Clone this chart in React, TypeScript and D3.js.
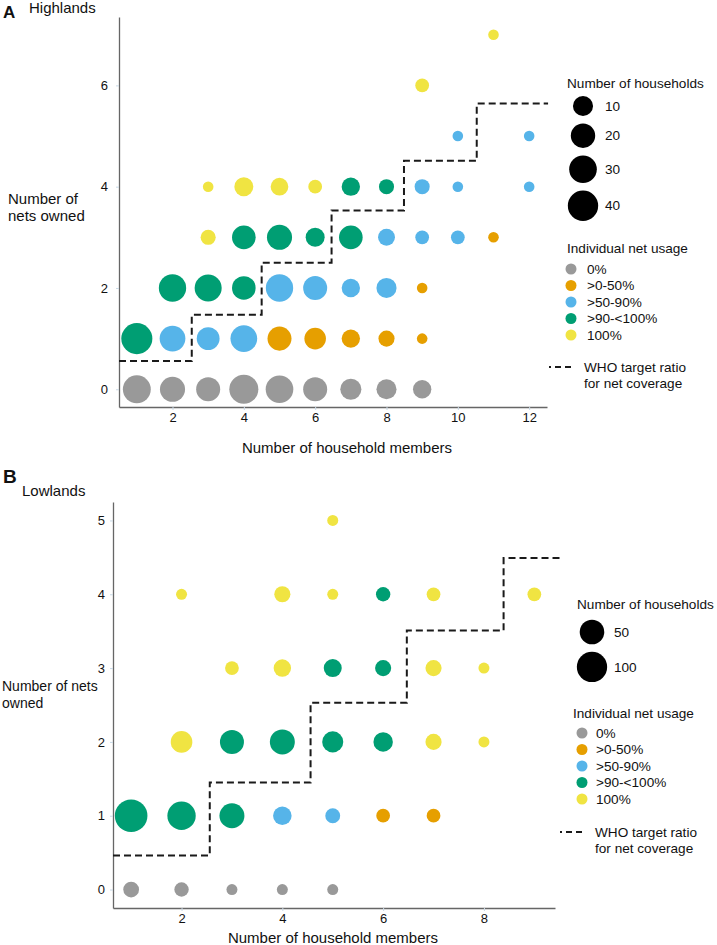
import React, { useEffect, useRef } from "react";
import * as d3 from "d3";

const FONT = "'Liberation Sans', Arial, Helvetica, sans-serif";

const usageCategories = ["0%", ">0-50%", ">50-90%", ">90-<100%", "100%"];
const usageColors = ["#999999", "#E69F00", "#56B4E9", "#009E73", "#F0E442"];

// Highlands (panel A)
const hMembers = [1, 2, 3, 4, 5, 6, 7, 8, 9, 1, 2, 3, 4, 5, 6, 7, 8, 9, 2, 3, 4, 5, 6, 7, 8, 9, 3, 4, 5, 6, 7, 8, 9, 10, 11, 3, 4, 5, 6, 7, 8, 9, 10, 12, 10, 12, 9, 11];
const hNets = [0, 0, 0, 0, 0, 0, 0, 0, 0, 1, 1, 1, 1, 1, 1, 1, 1, 1, 2, 2, 2, 2, 2, 2, 2, 2, 3, 3, 3, 3, 3, 3, 3, 3, 3, 4, 4, 4, 4, 4, 4, 4, 4, 4, 5, 5, 6, 7];
const hCounts = [31, 22, 19, 35, 30, 19, 12, 10, 7, 43, 24, 16, 27, 19, 13, 7, 4, 1, 29, 28, 18, 29, 19, 7, 10, 1, 3, 18, 22, 8, 18, 5, 2, 2, 1, 1, 8, 6, 2, 7, 3, 3, 1, 1, 1, 1, 2, 1];
const hUsage = [0, 0, 0, 0, 0, 0, 0, 0, 0, 3, 2, 2, 2, 1, 1, 1, 1, 1, 3, 3, 3, 2, 2, 2, 2, 1, 4, 3, 3, 3, 3, 2, 2, 2, 1, 4, 4, 4, 4, 3, 3, 2, 2, 2, 2, 2, 4, 4];
const hWhoX = [0.5, 2.54, 4.5, 6.46, 8.49, 10.53, 12.53];
const hWhoY = [0.56, 1.47, 2.5, 3.53, 4.51, 5.64, 5.64];
const hXTicks = [2, 4, 6, 8, 10, 12];
const hYTicks = [0, 2, 4, 6];
const hSizeLegend = [10, 20, 30, 40];

// Lowlands (panel B)
const lMembers = [1, 2, 3, 4, 5, 1, 2, 3, 4, 5, 6, 7, 2, 3, 4, 5, 6, 7, 8, 3, 4, 5, 6, 7, 8, 2, 4, 5, 6, 7, 9, 5];
const lNets = [0, 0, 0, 0, 0, 1, 1, 1, 1, 1, 1, 1, 2, 2, 2, 2, 2, 2, 2, 3, 3, 3, 3, 3, 3, 4, 4, 4, 4, 4, 4, 5];
const lCounts = [7, 4, 1, 1, 1, 125, 81, 53, 16, 5, 3, 3, 31, 46, 53, 28, 20, 8, 1, 3, 12, 14, 8, 8, 1, 1, 8, 1, 4, 3, 3, 1];
const lUsage = [0, 0, 0, 0, 0, 3, 3, 3, 2, 2, 1, 1, 4, 3, 3, 3, 3, 4, 4, 4, 4, 3, 3, 4, 4, 4, 4, 4, 3, 4, 4, 4];
const lWhoX = [0.64, 2.56, 4.56, 6.47, 8.39, 9.56];
const lWhoY = [0.46, 1.45, 2.53, 3.51, 4.49, 4.49];
const lXTicks = [2, 4, 6, 8];
const lYTicks = [0, 1, 2, 3, 4, 5];
const lSizeLegend = [50, 100];

const panels = [
  {
    members: hMembers, nets: hNets, counts: hCounts, usage: hUsage,
    whoX: hWhoX, whoY: hWhoY, xTicks: hXTicks, yTicks: hYTicks, sizeLegend: hSizeLegend,
    xDomain: [0.5, 12.5], xRange: [119, 547], yDomain: [-0.35, 7.35], yRange: [407, 17],
    sizeMax: 40, rRange: [5.3, 15.17], yPad: 8,
    letter: "A", letterPos: [3, 18], letterSize: 17, region: "Highlands", regionPos: [29, 13],
    yTitle: ["Number of", "nets owned"], yTitlePos: [8, 204], yTitleGap: 17, yTitleSize: 15,
    xTitlePos: [347, 453],
    sizeTitlePos: [567, 88], sizeCx: 583, sizeCy0: 106, sizeLabelX: 605,
    colTitlePos: [567, 253], colCx: 571, colCy0: 269, colLabelX: 587,
    whoLeg: [549, 575, 367], whoText: [584, 372],
  },
  {
    members: lMembers, nets: lNets, counts: lCounts, usage: lUsage,
    whoX: lWhoX, whoY: lWhoY, xTicks: lXTicks, yTicks: lYTicks, sizeLegend: lSizeLegend,
    xDomain: [0.64, 9.41], xRange: [113, 555], yDomain: [-0.25, 5.25], yRange: [908, 502],
    sizeMax: 100, rRange: [5.5, 15.15], yPad: 5,
    letter: "B", letterPos: [3, 483], letterSize: 19, region: "Lowlands", regionPos: [22, 496],
    yTitle: ["Number of nets", "owned"], yTitlePos: [2, 691], yTitleGap: 17, yTitleSize: 14,
    xTitlePos: [333, 943],
    sizeTitlePos: [577, 609], sizeCx: 592, sizeCy0: 632, sizeLabelX: 614,
    colTitlePos: [573, 718], colCx: 582, colCy0: 733, colLabelX: 596,
    whoLeg: [560, 586, 832], whoText: [595, 837],
  },
];

const LEG = 13.6;

function drawPanel(svg: any, p: any) {
  const x = d3.scaleLinear().domain(p.xDomain).range(p.xRange);
  const y = d3.scaleLinear().domain(p.yDomain).range(p.yRange);
  const r = d3.scaleSqrt().domain([0, p.sizeMax - 1]).range(p.rRange);
  const g = svg.append("g");

  const gx = g.append("g")
    .attr("transform", `translate(0,${p.yRange[0]})`)
    .call(d3.axisBottom(x).tickValues(p.xTicks).tickSize(3).tickSizeOuter(0).tickPadding(3).tickFormat(d3.format("d")));
  const gy = g.append("g")
    .attr("transform", `translate(${p.xRange[0]},0)`)
    .call(d3.axisLeft(y).tickValues(p.yTicks).tickSize(3).tickSizeOuter(0).tickPadding(p.yPad).tickFormat(d3.format("d")));
  [gx, gy].forEach((a) => {
    a.attr("font-family", FONT).attr("font-size", 13);
    a.select(".domain").attr("stroke", "#666").attr("stroke-width", 1.3);
    a.selectAll(".tick line").attr("stroke", "#c9d9e6");
    a.selectAll(".tick text").attr("fill", "#111");
  });

  const pts = p.members.map((m: number, i: number) => ({ m, n: p.nets[i], c: p.counts[i], u: p.usage[i] }));
  g.append("g").selectAll("circle").data(pts).join("circle")
    .attr("cx", (d: any) => x(d.m))
    .attr("cy", (d: any) => y(d.n))
    .attr("r", (d: any) => r(d.c - 1))
    .attr("fill", (d: any) => usageColors[d.u]);

  const who = p.whoX.map((v: number, i: number) => [v, p.whoY[i]]);
  const line = d3.line<any>().x((d) => x(d[0])).y((d) => y(d[1])).curve(d3.curveStepAfter);
  g.append("path").attr("d", line(who)).attr("fill", "none")
    .attr("stroke", "#1a1a1a").attr("stroke-width", 2).attr("stroke-dasharray", "7,4");

  const t = (xx: number, yy: number, s: string, size: number, extra: any = {}) => {
    const el = g.append("text").attr("x", xx).attr("y", yy).text(s)
      .attr("font-family", FONT).attr("font-size", size).attr("fill", "#111");
    Object.keys(extra).forEach((k) => el.attr(k, extra[k]));
    return el;
  };
  t(p.letterPos[0], p.letterPos[1], p.letter, p.letterSize, { "font-weight": "bold" });
  t(p.regionPos[0], p.regionPos[1], p.region, 15);
  p.yTitle.forEach((s: string, i: number) => t(p.yTitlePos[0], p.yTitlePos[1] + i * p.yTitleGap, s, p.yTitleSize));
  t(p.xTitlePos[0], p.xTitlePos[1], "Number of household members", 15, { "text-anchor": "middle" });

  // size legend
  t(p.sizeTitlePos[0], p.sizeTitlePos[1], "Number of households", LEG);
  let cy = p.sizeCy0;
  p.sizeLegend.forEach((v: number, i: number) => {
    if (i > 0) cy += r(p.sizeLegend[i - 1] - 1) + r(v - 1) + 7.5;
    g.append("circle").attr("cx", p.sizeCx).attr("cy", cy).attr("r", r(v - 1)).attr("fill", "#000");
    t(p.sizeLabelX, cy, String(v), LEG, { dy: "0.35em" });
  });

  // colour legend
  t(p.colTitlePos[0], p.colTitlePos[1], "Individual net usage", LEG);
  usageCategories.forEach((c, i) => {
    const yy = p.colCy0 + i * 16.5;
    g.append("circle").attr("cx", p.colCx).attr("cy", yy).attr("r", 5.5).attr("fill", usageColors[i]);
    t(p.colLabelX, yy, c, LEG, { dy: "0.35em" });
  });

  // WHO legend
  g.append("line").attr("x1", p.whoLeg[0]).attr("x2", p.whoLeg[1]).attr("y1", p.whoLeg[2]).attr("y2", p.whoLeg[2])
    .attr("stroke", "#1a1a1a").attr("stroke-width", 2).attr("stroke-dasharray", "6,4").attr("stroke-dashoffset", 4);
  t(p.whoText[0], p.whoText[1], "WHO target ratio", LEG);
  t(p.whoText[0], p.whoText[1] + 16, "for net coverage", LEG);
}

export default function App() {
  const ref = useRef<SVGSVGElement>(null);
  useEffect(() => {
    const svg = d3.select(ref.current);
    svg.selectAll("*").remove();
    panels.forEach((p) => drawPanel(svg, p));
  }, []);
  return (
    <svg
      ref={ref}
      width={717}
      height={945}
      style={{ position: "absolute", left: 0, top: 0, background: "#fff", display: "block" }}
    />
  );
}
